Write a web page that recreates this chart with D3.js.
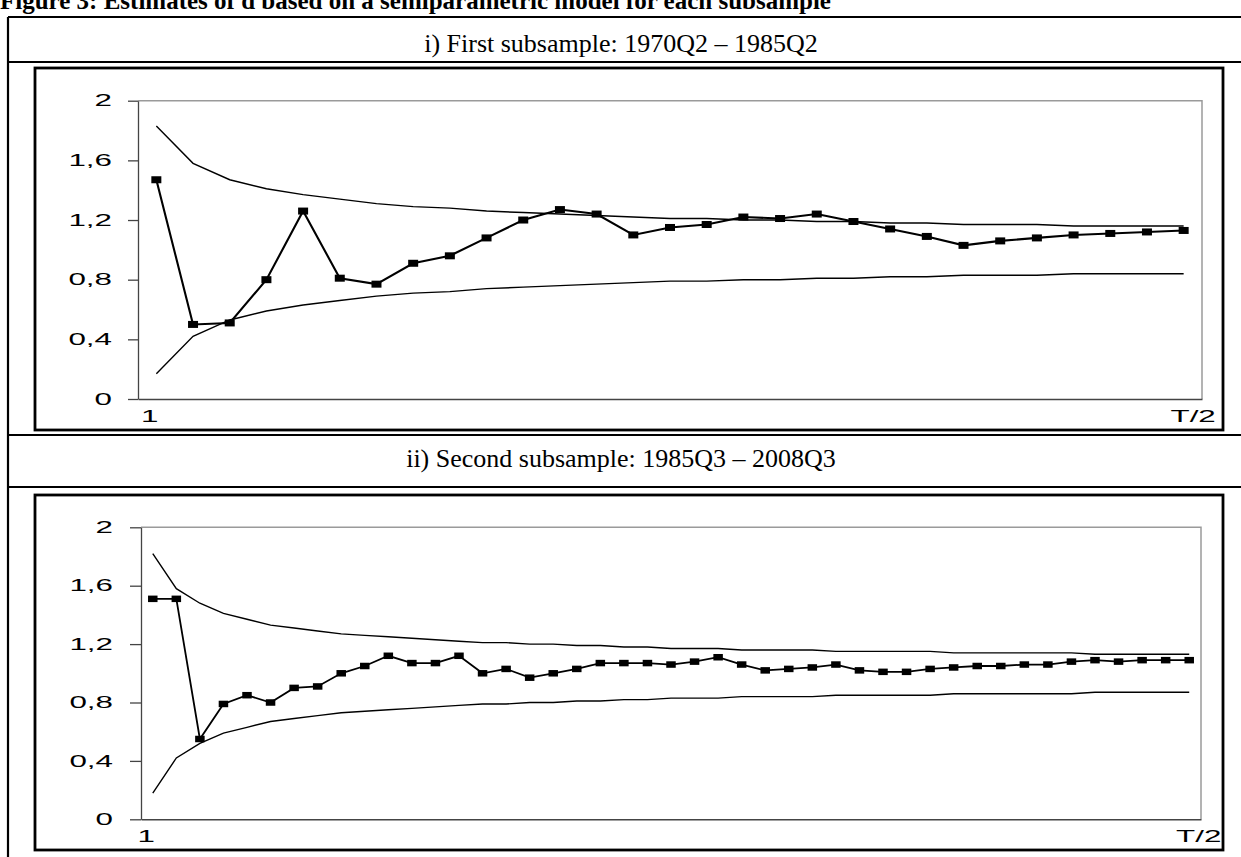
<!DOCTYPE html>
<html>
<head>
<meta charset="utf-8">
<script src="https://cdn.jsdelivr.net/npm/d3@7"></script>
<style>
    body { margin: 0; background: #fff; }
    svg { display: block; }
    .caption { font-family: "Liberation Serif", "Times New Roman", serif; fill: #000; }
    .axis text { font-family: "Liberation Sans", Arial, sans-serif; font-size: 16.5px; fill: #000; }
</style>
</head>
<body>
<div id="chart"></div>
<script>
// Data: estimates of d and the two bands, one value per bandwidth step
const sub1Estimate = [1.47, 0.50, 0.51, 0.80, 1.26, 0.81, 0.77, 0.91, 0.96, 1.08, 1.20, 1.27, 1.24, 1.10, 1.15,
    1.17, 1.22, 1.21, 1.24, 1.19, 1.14, 1.09, 1.03, 1.06, 1.08, 1.10, 1.11, 1.12, 1.13];
const sub1Upper = [1.83, 1.58, 1.47, 1.41, 1.37, 1.34, 1.31, 1.29, 1.28, 1.26, 1.25, 1.24, 1.23, 1.22, 1.21,
    1.21, 1.20, 1.20, 1.19, 1.19, 1.18, 1.18, 1.17, 1.17, 1.17, 1.16, 1.16, 1.16, 1.16];
const sub1Lower = [0.17, 0.42, 0.53, 0.59, 0.63, 0.66, 0.69, 0.71, 0.72, 0.74, 0.75, 0.76, 0.77, 0.78, 0.79,
    0.79, 0.80, 0.80, 0.81, 0.81, 0.82, 0.82, 0.83, 0.83, 0.83, 0.84, 0.84, 0.84, 0.84];

const sub2Estimate = [1.51, 1.51, 0.55, 0.79, 0.85, 0.80, 0.90, 0.91, 1.00, 1.05, 1.12, 1.07, 1.07, 1.12, 1.00,
    1.03, 0.97, 1.00, 1.03, 1.07, 1.07, 1.07, 1.06, 1.08, 1.11, 1.06, 1.02, 1.03, 1.04, 1.06,
    1.02, 1.01, 1.01, 1.03, 1.04, 1.05, 1.05, 1.06, 1.06, 1.08, 1.09, 1.08, 1.09, 1.09, 1.09];
const sub2Upper = [1.82, 1.58, 1.48, 1.41, 1.37, 1.33, 1.31, 1.29, 1.27, 1.26, 1.25, 1.24, 1.23, 1.22, 1.21,
    1.21, 1.20, 1.20, 1.19, 1.19, 1.18, 1.18, 1.17, 1.17, 1.17, 1.16, 1.16, 1.16, 1.16, 1.15,
    1.15, 1.15, 1.15, 1.15, 1.14, 1.14, 1.14, 1.14, 1.14, 1.14, 1.13, 1.13, 1.13, 1.13, 1.13];
const sub2Lower = [0.18, 0.42, 0.52, 0.59, 0.63, 0.67, 0.69, 0.71, 0.73, 0.74, 0.75, 0.76, 0.77, 0.78, 0.79,
    0.79, 0.80, 0.80, 0.81, 0.81, 0.82, 0.82, 0.83, 0.83, 0.83, 0.84, 0.84, 0.84, 0.84, 0.85,
    0.85, 0.85, 0.85, 0.85, 0.86, 0.86, 0.86, 0.86, 0.86, 0.86, 0.87, 0.87, 0.87, 0.87, 0.87];

const yTicks = [0, 0.4, 0.8, 1.2, 1.6, 2];
const xEndLabels = ['1', 'T/2'];
const figureTitle = 'Figure 3: Estimates of d based on a semiparametric model for each subsample';
const panelTitles = ['i) First subsample: 1970Q2 \u2013 1985Q2', 'ii) Second subsample: 1985Q3 \u2013 2008Q3'];

const width = 1241, height = 857;

const svg = d3.select('#chart')
    .append('svg')
    .attr('width', width)
    .attr('height', height);

// figure caption, cut at the top of the page
svg.append('text')
    .attr('class', 'caption')
    .attr('x', 0)
    .attr('y', 9)
    .style('font-size', '25px')
    .style('font-weight', 'bold')
    .text(figureTitle);

// table frame
const tableLines = [
    [8, 17, 1241, 17], [8, 62, 1241, 62], [8, 435, 1241, 435], [8, 487, 1241, 487], [8, 17, 8, 857]
];
svg.selectAll('.tline')
    .data(tableLines)
    .enter().append('line')
    .attr('x1', d => d[0]).attr('y1', d => d[1])
    .attr('x2', d => d[2]).attr('y2', d => d[3])
    .attr('stroke', '#000')
    .attr('stroke-width', 2.2);

const panels = [
    {
        title: panelTitles[0], titleY: 52, box: [35, 68, 1223, 430],
        plot: { left: 138, right: 1202, top: 100.7, bottom: 399 },
        est: sub1Estimate, up: sub1Upper, lo: sub1Lower,
        tick: 10, labelGap: 26, mark: [10, 7], lw: 2.1
    },
    {
        title: panelTitles[1], titleY: 467, box: [35, 495, 1223, 850],
        plot: { left: 141, right: 1201, top: 527.3, bottom: 819.3 },
        est: sub2Estimate, up: sub2Upper, lo: sub2Lower,
        tick: 11, labelGap: 28, mark: [9.5, 6.5], lw: 1.8
    }
];

const fmt = v => (v === 0 || v === 2) ? String(v) : v.toFixed(1).replace('.', ',');
const stretch = 1.9;

panels.forEach(p => {
    // row caption
    svg.append('text')
        .attr('class', 'caption')
        .attr('x', 621)
        .attr('y', p.titleY)
        .attr('text-anchor', 'middle')
        .style('font-size', '26px')
        .text(p.title);

    // inner chart frame
    svg.append('rect')
        .attr('x', p.box[0]).attr('y', p.box[1])
        .attr('width', p.box[2] - p.box[0])
        .attr('height', p.box[3] - p.box[1])
        .attr('fill', 'none')
        .attr('stroke', '#000')
        .attr('stroke-width', 2.8);

    const xScale = d3.scalePoint()
        .domain(d3.range(p.est.length))
        .range([p.plot.left, p.plot.right])
        .padding(0.5);

    const yScale = d3.scaleLinear()
        .domain([0, 2])
        .range([p.plot.bottom, p.plot.top]);

    // grey top and right border of the plot area
    svg.append('path')
        .attr('d', `M${p.plot.left},${p.plot.top}H${p.plot.right}V${p.plot.bottom}`)
        .attr('fill', 'none')
        .attr('stroke', '#9a9a9a')
        .attr('stroke-width', 1.5);

    // y axis
    const yAxis = d3.axisLeft(yScale)
        .tickValues(yTicks)
        .tickFormat(fmt)
        .tickSize(p.tick)
        .tickSizeOuter(0);
    const gy = svg.append('g')
        .attr('class', 'axis')
        .attr('transform', `translate(${p.plot.left},0)`)
        .call(yAxis);
    gy.selectAll('line, path').attr('stroke', '#444').attr('stroke-width', 1.3);
    gy.selectAll('text')
        .attr('x', -p.labelGap / stretch)
        .attr('transform', `scale(${stretch},1)`);

    // x axis: only first and last label
    const n = p.est.length;
    const xAxis = d3.axisBottom(xScale)
        .tickValues([0, n - 1])
        .tickFormat(i => i === 0 ? xEndLabels[0] : xEndLabels[1])
        .tickSize(0)
        .tickSizeOuter(0)
        .tickPadding(11);
    const gx = svg.append('g')
        .attr('class', 'axis')
        .attr('transform', `translate(0,${p.plot.bottom})`)
        .call(xAxis);
    gx.select('.domain').attr('stroke', '#444').attr('stroke-width', 1.5);
    gx.selectAll('.tick')
        .each(function (i) {
            // keep the tick position while stretching the glyphs
            const g = d3.select(this);
            const tx = xScale(i);
            g.attr('transform', `translate(${tx},0) scale(${stretch},1)`);
            g.select('text').attr('x', i === 0 ? -3.5 : 5);
        });

    const line = d3.line()
        .x((d, i) => xScale(i))
        .y(d => yScale(d));

    // confidence bands
    [p.up, p.lo].forEach(band => {
        svg.append('path')
            .datum(band)
            .attr('d', line)
            .attr('fill', 'none')
            .attr('stroke', '#000')
            .attr('stroke-width', 1.4);
    });

    // estimate line with square markers
    svg.append('path')
        .datum(p.est)
        .attr('d', line)
        .attr('fill', 'none')
        .attr('stroke', '#000')
        .attr('stroke-width', p.lw);

    svg.selectAll(null)
        .data(p.est)
        .enter().append('rect')
        .attr('x', (d, i) => xScale(i) - p.mark[0] / 2)
        .attr('y', d => yScale(d) - p.mark[1] / 2)
        .attr('width', p.mark[0])
        .attr('height', p.mark[1])
        .attr('fill', '#000');
});
</script>
</body>
</html>
